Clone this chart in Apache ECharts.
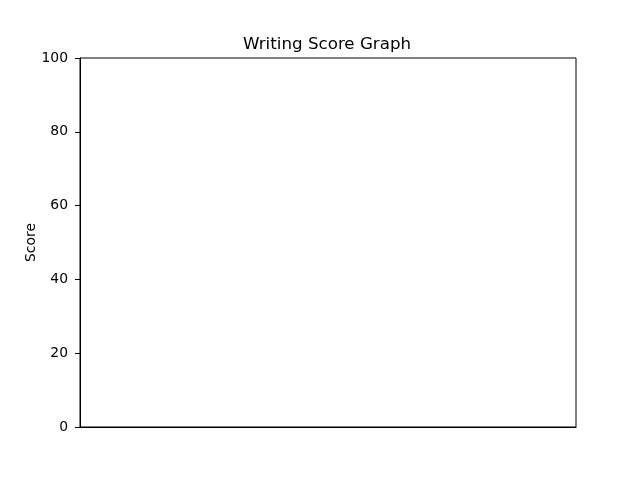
<!DOCTYPE html>
<html>
<head>
<meta charset="utf-8">
<script src="https://cdn.jsdelivr.net/npm/echarts@6/dist/echarts.min.js"></script>
<style>html,body{margin:0;padding:0;background:#fff}#c{width:640px;height:480px}</style>
</head>
<body>
<div id="c"></div>
<script>
// Data (the reference chart is empty: no marks drawn)
const categories = [];
const scores = [];
const yTicks = [0, 20, 40, 60, 80, 100];
const titleText = 'Writing Score Graph';
const yLabel = 'Score';

const chart = echarts.init(document.getElementById('c'), null, {renderer: 'canvas'});
const font = 'DejaVu Sans';
chart.setOption({
  animation: false,
  backgroundColor: '#ffffff',
  title: {
    text: titleText,
    left: 238, top: 31,
    textStyle: {fontFamily: font, fontSize: 16.7, fontWeight: 'normal', color: '#000'}
  },
  grid: {left: 80, right: 64, top: 58, bottom: 53, show: true, borderColor: '#000', borderWidth: 1, backgroundColor: 'transparent'},
  xAxis: {
    type: 'category', data: categories,
    axisLine: {show: true, lineStyle: {color: '#000', width: 1}},
    axisTick: {show: false}, axisLabel: {show: false}, splitLine: {show: false}
  },
  yAxis: {
    type: 'value', min: yTicks[0], max: yTicks[yTicks.length - 1], interval: 20,
    name: yLabel, nameLocation: 'middle', nameGap: 42, nameRotate: 90, nameMoveOverlap: false,
    nameTextStyle: {fontFamily: font, fontSize: 13.9, color: '#000'},
    axisLine: {show: true, lineStyle: {color: '#000', width: 1}},
    axisTick: {show: true, inside: false, length: 5, lineStyle: {color: '#000', width: 1}},
    axisLabel: {margin: 12, fontFamily: font, fontSize: 13.9, color: '#000'},
    splitLine: {show: false}
  },
  series: [{type: 'line', data: scores}]
});
</script>
</body>
</html>
